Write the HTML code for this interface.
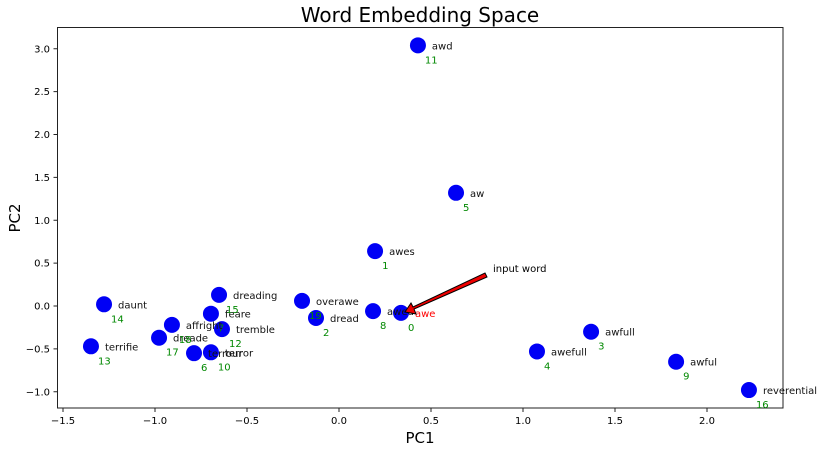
<!DOCTYPE html>
<html><head><meta charset="utf-8"><style>
body{margin:0;background:#fff;}
svg text{font-family:"DejaVu Sans","Liberation Sans",sans-serif;}
</style></head><body>
<svg id="chart" width="824" height="451" xmlns="http://www.w3.org/2000/svg">
<text x="420" y="22" font-size="20" text-anchor="middle">Word Embedding Space</text>
<rect x="57.5" y="27.5" width="725.5" height="380.5" fill="none" stroke="#222" stroke-width="1"/>
<g id="xticks"></g><g id="yticks"></g><g id="points"></g>
<text x="420" y="443" font-size="15" text-anchor="middle">PC1</text>
<text transform="translate(20,218) rotate(-90)" font-size="15" text-anchor="middle">PC2</text>
<polygon points="485,273 487,277 414,309 416,314 405,312 411,303 413,307" fill="#e00" stroke="#000" stroke-width="1"/>
<text x="493" y="272" font-size="10">input word</text>
</svg>
<script>
const words=["awe","awes","dread","awfull","awefull","aw","terrour","feare","aweu","awful","terror","awd","tremble","terrifie","daunt","dreading","reverential","dreade","affright","overawe"];
const xs=[0.337,0.196,-0.125,1.370,1.076,0.636,-0.788,-0.696,0.185,1.832,-0.696,0.429,-0.636,-1.348,-1.277,-0.652,2.228,-0.978,-0.908,-0.201];
const ys=[-0.08,0.64,-0.14,-0.30,-0.53,1.32,-0.55,-0.09,-0.06,-0.65,-0.54,3.04,-0.27,-0.47,0.02,0.13,-0.98,-0.37,-0.22,0.06];
const xTicks=[-1.5,-1.0,-0.5,0.0,0.5,1.0,1.5,2.0];
const yTicks=[-1.0,-0.5,0.0,0.5,1.0,1.5,2.0,2.5,3.0];
const NS="http://www.w3.org/2000/svg";
const X=v=>339+v*184, Y=v=>306-v*85.75;
function mk(t,a,p){const e=document.createElementNS(NS,t);for(const k in a)e.setAttribute(k,a[k]);p.appendChild(e);return e;}
const fmt=v=>(v<0?"\u2212":"")+Math.abs(v).toFixed(1);
const xg=document.getElementById('xticks'),yg=document.getElementById('yticks'),pg=document.getElementById('points');
xTicks.forEach(v=>{const l=mk('line',{x1:X(v),x2:X(v),y1:408,y2:412,stroke:'#222'},xg);


const t=mk('text',{x:X(v),y:424,'font-size':10,'text-anchor':'middle'},xg);t.textContent=fmt(v);

});
yTicks.forEach(v=>{const l=mk('line',{x1:53.5,x2:57.5,y1:Y(v),y2:Y(v),stroke:'#222'},yg);


const t=mk('text',{x:50,y:Y(v)+3.5,'font-size':10,'text-anchor':'end'},yg);t.textContent=fmt(v);

});
words.forEach((w,i)=>{const cx=X(xs[i]),cy=Y(ys[i]);
const c=mk('circle',{cx:cx,cy:cy,r:8,fill:'#0000f5'},pg);

});
words.forEach((w,i)=>{const cx=X(xs[i]),cy=Y(ys[i]);
const t=mk('text',{x:cx+14,y:cy+4,'font-size':10,fill:i===0?'#f00':'#111'},pg);t.textContent=w;


const n=mk('text',{x:cx+7,y:cy+18,'font-size':10,fill:'#080'},pg);n.textContent=i;

});
</script>
</body></html>
